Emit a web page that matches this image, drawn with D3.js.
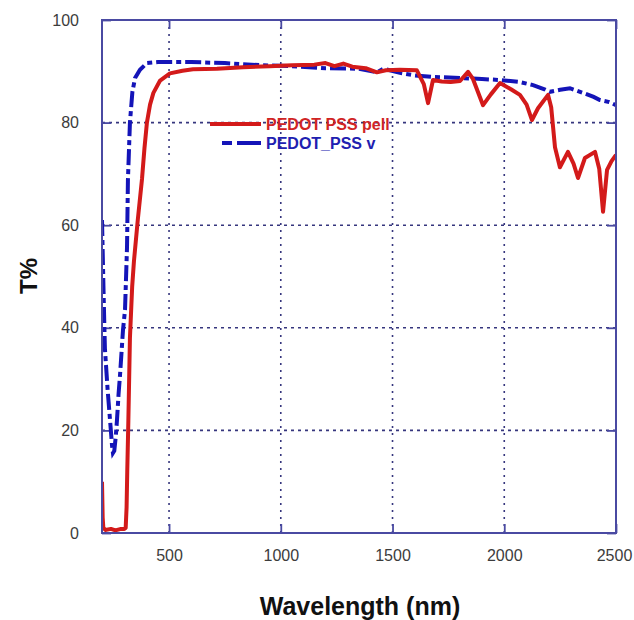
<!DOCTYPE html>
<html>
<head>
<meta charset="utf-8">
<script src="https://cdn.jsdelivr.net/npm/d3@7"></script>
<style>
  html, body { margin: 0; padding: 0; background: #fff; }
  svg { display: block; }
</style>
</head>
<body>
<svg id="chart" width="634" height="620"></svg>
<script>
// Transmittance spectra of two PEDOT:PSS films
const pellWavelength = [200, 203, 206, 215, 240, 260, 285, 300, 306, 310, 313, 318, 325, 335, 343, 360, 379, 390, 401, 415, 430, 460, 504, 560, 607, 714, 831, 950, 1050, 1150, 1200, 1240, 1280, 1320, 1380, 1430, 1470, 1533, 1609, 1640, 1659, 1681, 1720, 1760, 1802, 1838, 1860, 1905, 1940, 1981, 2030, 2070, 2100, 2124, 2151, 2196, 2210, 2227, 2249, 2285, 2310, 2330, 2361, 2406, 2425, 2442, 2460, 2480, 2500];
const pellT = [10, 3, 1, 0.6, 0.8, 0.5, 0.8, 0.8, 1, 5, 12, 22, 38, 48, 53, 61, 69, 75, 80, 83.5, 85.8, 88.2, 89.6, 90.1, 90.4, 90.5, 90.8, 91.0, 91.2, 91.3, 91.6, 91.0, 91.5, 90.9, 90.6, 89.8, 90.2, 90.3, 90.2, 87.5, 83.8, 88.3, 88.0, 87.9, 88.1, 89.9, 88.5, 83.4, 85.5, 87.7, 86.5, 85.4, 83.5, 80.5, 82.8, 85.4, 83, 75.2, 71.3, 74.3, 72, 69.2, 73.1, 74.3, 71, 62.6, 70.8, 72.5, 73.7];

const vWavelength = [200, 203, 208, 213, 225, 236, 245, 249, 255, 262, 267, 274, 281, 294, 303, 312, 316, 325, 336, 348, 370, 401, 450, 600, 750, 907, 1050, 1200, 1350, 1430, 1460, 1533, 1600, 1681, 1802, 1900, 1981, 2070, 2129, 2180, 2204, 2250, 2294, 2352, 2400, 2428, 2470, 2500];
const vT = [61, 55, 45, 36, 28, 22, 17, 15.6, 16, 19, 22, 27, 31, 39.6, 43.5, 55.8, 68.8, 80, 86, 88.7, 90.3, 91.6, 91.8, 91.8, 91.6, 91.2, 91.0, 90.6, 90.5, 89.8, 90.5, 89.7, 89.2, 88.9, 88.7, 88.5, 88.3, 87.9, 87.3, 86.5, 86, 86.4, 86.7, 85.8, 85, 84.4, 84, 83.4];

const xTicks = [500, 1000, 1500, 2000, 2500];
const yTicks = [0, 20, 40, 60, 80, 100];
const seriesNames = ["PEDOT PSS pell", "PEDOT_PSS v"];

const svg = d3.select("#chart");
const plotLeft = 102, plotRight = 616, plotTop = 20, plotBottom = 533;
const frameColor = "#4a4aa2";
const gridColor = "#36367e";
const redColor = "#d31a1a";
const blueColor = "#1414b8";
const font = "'Liberation Sans', Arial, sans-serif";

const x = d3.scaleLinear().domain([200, 2500]).range([plotLeft, plotRight]);
const y = d3.scaleLinear().domain([0, 100]).range([plotBottom, plotTop]);

// dotted grid
const grid = svg.append("g");
grid.selectAll("line.vx").data(xTicks.filter(d => d < 2500)).join("line")
  .attr("x1", d => x(d)).attr("x2", d => x(d))
  .attr("y1", plotTop).attr("y2", plotBottom)
  .attr("stroke", gridColor).attr("stroke-width", 1.6)
  .attr("stroke-dasharray", "2,5");
grid.selectAll("line.hy").data(yTicks.filter(d => d > 0 && d < 100)).join("line")
  .attr("x1", plotLeft).attr("x2", plotRight)
  .attr("y1", d => y(d)).attr("y2", d => y(d))
  .attr("stroke", gridColor).attr("stroke-width", 1.6)
  .attr("stroke-dasharray", "3,4");

// axes with inward ticks on all four sides
const tickLen = 9;
const fmt = d3.format("d");
const axBottom = svg.append("g").attr("transform", `translate(0,${plotBottom})`)
  .call(d3.axisBottom(x).tickValues(xTicks).tickFormat(fmt).tickSize(-tickLen).tickPadding(tickLen + 8));
const axTop = svg.append("g").attr("transform", `translate(0,${plotTop})`)
  .call(d3.axisTop(x).tickValues(xTicks).tickSize(-tickLen).tickFormat(""));
const axLeft = svg.append("g").attr("transform", `translate(${plotLeft},0)`)
  .call(d3.axisLeft(y).tickValues(yTicks).tickFormat(fmt).tickSize(-tickLen).tickPadding(tickLen + 14));
const axRight = svg.append("g").attr("transform", `translate(${plotRight},0)`)
  .call(d3.axisRight(y).tickValues(yTicks).tickSize(-tickLen).tickFormat(""));

[axBottom, axTop, axLeft, axRight].forEach(g => {
  g.select(".domain").remove();
  g.selectAll(".tick line").attr("stroke", frameColor).attr("stroke-width", 1.8);
  g.selectAll("text")
    .attr("font-family", font)
    .attr("font-size", 16)
    .attr("fill", "#3c3c3c");
});
// keep the last x label inside the page
axBottom.selectAll(".tick text").filter(d => d === 2500).attr("dx", -2);

// clip for data
svg.append("clipPath").attr("id", "plotclip")
  .append("rect").attr("x", plotLeft).attr("y", plotTop - 2)
  .attr("width", plotRight - plotLeft).attr("height", plotBottom - plotTop + 2);

const line = d3.line().x(d => x(d[0])).y(d => y(d[1]));

const plot = svg.append("g").attr("clip-path", "url(#plotclip)");
plot.append("path")
  .datum(vWavelength.map((w, i) => [w, vT[i]]))
  .attr("d", line).attr("fill", "none")
  .attr("stroke", blueColor).attr("stroke-width", 4)
  .attr("stroke-dasharray", "16,4,5,4");
plot.append("path")
  .datum(pellWavelength.map((w, i) => [w, pellT[i]]))
  .attr("d", line).attr("fill", "none")
  .attr("stroke", redColor).attr("stroke-width", 4)
  .attr("stroke-linejoin", "round");

// frame
svg.append("rect")
  .attr("x", plotLeft).attr("y", plotTop)
  .attr("width", plotRight - plotLeft).attr("height", plotBottom - plotTop)
  .attr("fill", "none").attr("stroke", frameColor).attr("stroke-width", 2);

// legend
const legend = svg.append("g").attr("font-family", font)
  .attr("font-weight", "bold").attr("font-size", 16);
legend.append("line").attr("x1", 210).attr("x2", 261).attr("y1", 124).attr("y2", 124)
  .attr("stroke", redColor).attr("stroke-width", 4);
legend.append("text").attr("x", 266).attr("y", 130).attr("fill", "#d02424").text(seriesNames[0]);
legend.append("line").attr("x1", 222).attr("x2", 261).attr("y1", 143).attr("y2", 143)
  .attr("stroke", blueColor).attr("stroke-width", 4)
  .attr("stroke-dasharray", "10,5,24,5");
legend.append("text").attr("x", 266).attr("y", 149).attr("fill", "#2020b0").text(seriesNames[1]);

// axis titles
svg.append("text")
  .attr("x", 360).attr("y", 615)
  .attr("text-anchor", "middle")
  .attr("font-family", font)
  .attr("font-weight", "bold").attr("font-size", 25)
  .attr("fill", "#111").text("Wavelength (nm)");
svg.append("text")
  .attr("transform", "translate(37,276) rotate(-90)")
  .attr("text-anchor", "middle")
  .attr("font-family", font)
  .attr("font-weight", "bold").attr("font-size", 24)
  .attr("fill", "#111").text("T%");
</script>
</body>
</html>
